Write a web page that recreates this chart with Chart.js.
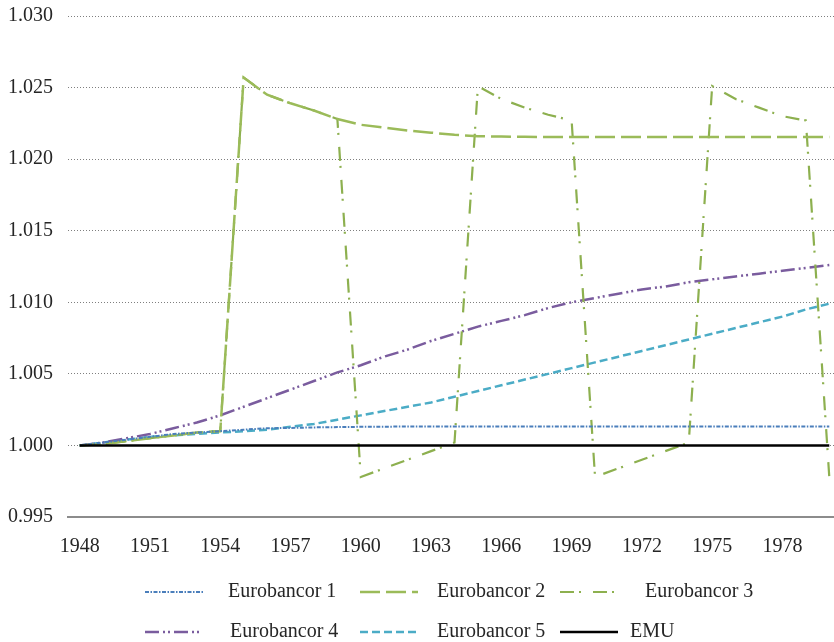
<!DOCTYPE html>
<html>
<head>
<meta charset="utf-8">
<script src="https://cdn.jsdelivr.net/npm/chart.js@4.4.0/dist/chart.umd.min.js"></script>
<style>
html, body { margin: 0; padding: 0; background: #fff; overflow: hidden; }
#wrap { width: 834px; height: 642px; overflow: hidden; }
</style>
</head>
<body>
<div id="wrap"><canvas id="c" width="842" height="642"></canvas></div>
<script>
const years = ['1948','1949','1950','1951','1952','1953','1954','1955','1956','1957','1958',
  '1959','1960','1961','1962','1963','1964','1965','1966','1967','1968','1969','1970',
  '1971','1972','1973','1974','1975','1976','1977','1978','1979','1980'];
const tickYears = ['1948','1951','1954','1957','1960','1963','1966','1969','1972','1975','1978'];

const ebc1 = [1.0000, 1.0002, 1.0004, 1.0006, 1.0008, 1.0009, 1.0010, 1.0011, 1.0012, 1.00122, 1.00126,
  1.00128, 1.0013, 1.00131, 1.00132, 1.00133, 1.00133, 1.00133, 1.00133, 1.00133, 1.00133, 1.00133, 1.00133,
  1.00133, 1.00133, 1.00133, 1.00133, 1.00133, 1.00133, 1.00133, 1.00133, 1.00133, 1.00133];
const ebc2 = [1.0000, 1.0001, 1.0003, 1.0005, 1.0007, 1.0009, 1.0010, 1.0257, 1.0245, 1.0239, 1.0234,
  1.0228, 1.0224, 1.0222, 1.0220, 1.02185, 1.0217, 1.0216, 1.02158, 1.02156, 1.02155, 1.02155, 1.02155,
  1.02155, 1.02155, 1.02155, 1.02155, 1.02155, 1.02155, 1.02155, 1.02155, 1.02155, 1.02155];
const ebc3 = [1.0000, 1.0001, 1.0003, 1.0005, 1.0007, 1.0009, 1.0010, 1.0257, 1.0245, 1.0239, 1.0234,
  1.0228, 0.9978, 0.9984, 0.9990, 0.9996, 1.0002, 1.0251, 1.0242, 1.0236, 1.0231, 1.0227, 0.9978,
  0.9984, 0.9990, 0.9996, 1.0002, 1.0251, 1.0242, 1.0236, 1.0230, 1.0227, 0.9978];
const ebc4 = [1.0000, 1.0002, 1.0005, 1.0008, 1.0012, 1.0016, 1.0021, 1.0027, 1.0033, 1.0039, 1.0045,
  1.0051, 1.0056, 1.0062, 1.0067, 1.0073, 1.0078, 1.0083, 1.0087, 1.0091, 1.0096, 1.0100, 1.0103,
  1.0106, 1.0109, 1.0111, 1.0114, 1.0116, 1.0118, 1.0120, 1.0122, 1.0124, 1.0126];
const ebc5 = [1.0000, 1.0002, 1.0004, 1.0006, 1.0007, 1.0008, 1.0009, 1.0010, 1.0011, 1.0013, 1.0015,
  1.0018, 1.0021, 1.0024, 1.0027, 1.0030, 1.0034, 1.0038, 1.0042, 1.0046, 1.0050, 1.0054, 1.0058,
  1.0062, 1.0066, 1.0070, 1.0074, 1.0078, 1.0082, 1.0086, 1.0090, 1.0095, 1.0099];
const emu = [1.000, 1.000, 1.000, 1.000, 1.000, 1.000, 1.000, 1.000, 1.000, 1.000, 1.000,
  1.000, 1.000, 1.000, 1.000, 1.000, 1.000, 1.000, 1.000, 1.000, 1.000, 1.000, 1.000,
  1.000, 1.000, 1.000, 1.000, 1.000, 1.000, 1.000, 1.000, 1.000, 1.000];

const FONT = '"Liberation Serif", "Times New Roman", serif';
const TEXT = '#262626';

// legend in a 3-column grid below the axis, like the original
const gridLegend = {
  id: 'gridLegend',
  afterDraw(chart) {
    const ctx = chart.ctx;
    const lineX = [145, 360, 560];
    const rowY = [592, 632];
    const textX = [[228, 437, 645], [230, 437, 630]];
    chart.data.datasets.forEach((ds, i) => {
      const r = Math.floor(i / 3), c = i % 3;
      const y = rowY[r];
      ctx.save();
      ctx.strokeStyle = ds.borderColor;
      ctx.lineWidth = ds.borderWidth;
      ctx.setLineDash(ds.borderDash || []);
      ctx.beginPath();
      ctx.moveTo(lineX[c], y);
      ctx.lineTo(lineX[c] + 58, y);
      ctx.stroke();
      ctx.setLineDash([]);
      ctx.fillStyle = TEXT;
      ctx.font = '20px ' + FONT;
      ctx.textBaseline = 'middle';
      ctx.fillText(ds.label, textX[r][c], y);
      ctx.restore();
    });
  }
};

new Chart(document.getElementById('c'), {
  type: 'line',
  data: {
    labels: years,
    datasets: [
      { label: 'Eurobancor 1', data: ebc1, borderColor: '#4a7ebb', borderWidth: 2, borderDash: [4, 1.5, 1.5, 1.5] },
      { label: 'Eurobancor 2', data: ebc2, borderColor: '#9bbb59', borderWidth: 2.5, borderDash: [20, 6] },
      { label: 'Eurobancor 3', data: ebc3, borderColor: '#8db04f', borderWidth: 2.2, borderDash: [14, 5, 2, 12] },
      { label: 'Eurobancor 4', data: ebc4, borderColor: '#7a5c9e', borderWidth: 2.5, borderDash: [14, 4, 2, 3, 2, 4] },
      { label: 'Eurobancor 5', data: ebc5, borderColor: '#4bacc6', borderWidth: 2.5, borderDash: [8, 4] },
      { label: 'EMU', data: emu, borderColor: '#000000', borderWidth: 2.5, order: -1 }
    ]
  },
  options: {
    responsive: false,
    animation: false,
    devicePixelRatio: 1,
    layout: { padding: { left: 8, top: 16, right: 1, bottom: 65 } },
    elements: { point: { radius: 0 }, line: { tension: 0, fill: false } },
    plugins: { legend: { display: false }, tooltip: { enabled: false } },
    scales: {
      x: {
        type: 'category',
        offset: true,
        grid: { display: false, drawTicks: false },
        border: { display: true, color: '#8c8c8c', width: 2 },
        ticks: {
          autoSkip: false, maxRotation: 0, padding: 18, color: TEXT,
          font: { family: FONT, size: 20 },
          callback: function (v) {
            const lab = this.getLabelForValue(v);
            return tickYears.includes(lab) ? lab : null;
          }
        }
      },
      y: {
        min: 0.995, max: 1.03,
        afterFit: s => { s.width = 60; s.paddingTop = 0; s.paddingBottom = 0; },
        grid: { color: '#7f7f7f', lineWidth: 1, drawTicks: false },
        border: { display: false, dash: [1, 2] },
        ticks: {
          stepSize: 0.005, padding: 15, color: TEXT,
          font: { family: FONT, size: 20 },
          callback: v => v.toFixed(3)
        }
      }
    }
  },
  plugins: [gridLegend]
});
</script>
</body>
</html>
